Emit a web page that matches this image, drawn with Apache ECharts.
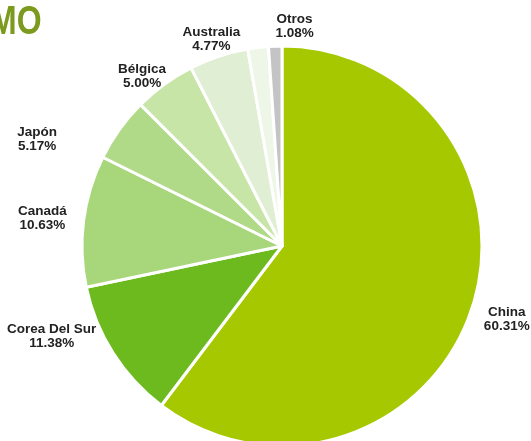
<!DOCTYPE html>
<html><head><meta charset="utf-8">
<script src="https://cdn.jsdelivr.net/npm/echarts@6/dist/echarts.min.js"></script>
<style>html,body{margin:0;padding:0;background:#fff}#c{width:531px;height:441px}</style>
</head><body><div id="c"></div>
<script>
const categories = ['China', 'Corea Del Sur', 'Canadá', 'Japón', 'Bélgica', 'Australia', '', 'Otros'];
const shares = [60.31, 11.38, 10.63, 5.17, 5.00, 4.77, 1.66, 1.08];
const colors = ['#a5c800', '#6dba1f', '#a8d67a', '#b1da88', '#c8e5a8', '#e0efd3', '#eef6e7', '#c4c4c4'];
// label nudges (px) relative to the library's own outside-label placement
const labelNudge = [[-6, 5], [0, -24], [-3, -1], [-49, 15], [35, -18], [68, -23], [0, 0], [44, -6]];

const chart = echarts.init(document.getElementById('c'), null, {renderer: 'canvas'});
chart.setOption({
  animation: false,
  graphic: [{type: 'text', x: -10, y: 3, scaleX: 0.8,
    style: {text: 'MO', font: 'bold 40px "Liberation Sans", Arial', fill: '#7c9a1e'}}],
  series: [{
    type: 'pie',
    center: [282, 246],
    radius: [0, 200],
    startAngle: 90,
    clockwise: true,
    silent: true,
    itemStyle: {borderColor: '#fff', borderWidth: 3},
    label: {
      show: true, position: 'outside', overflow: 'none',
      formatter: p => p.name ? p.name + '\n' + p.value.toFixed(2) + '%' : '',
      fontFamily: '"Liberation Sans", Arial, sans-serif', fontWeight: 'bold', fontSize: 13.5,
      lineHeight: 14, color: '#222', align: 'center'
    },
    labelLine: {show: false, length: 14, length2: 0},
    labelLayout: p => {
      const r = p.labelRect, n = labelNudge[p.dataIndex];
      return {x: r.x + r.width / 2 + n[0], y: r.y + r.height / 2 + n[1], align: 'center', verticalAlign: 'middle'};
    },
    data: categories.map((n, i) => ({name: n, value: shares[i], itemStyle: {color: colors[i]}}))
  }]
});
</script></body></html>
